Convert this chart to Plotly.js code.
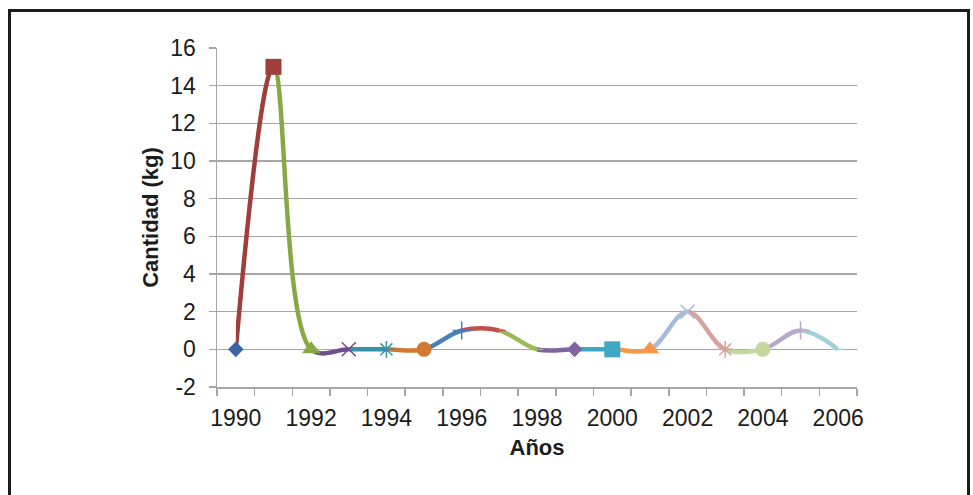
<!DOCTYPE html>
<html>
<head>
<meta charset="utf-8">
<script src="https://cdn.plot.ly/plotly-3.0.1.min.js"></script>
<style>
  html, body { margin: 0; padding: 0; background: #ffffff; overflow: hidden; }
  #frame { position: absolute; left: 8px; top: 9px; width: 962px; height: 530px;
           box-sizing: border-box; border: 3px solid #1c1c1c; pointer-events: none; z-index: 2; }
  #chart { position: absolute; left: 0; top: 0; width: 973px; height: 495px; }
</style>
</head>
<body>
<div id="chart"></div>
<div id="frame"></div>
<script>
// ---- data ----
const years = [1990, 1991, 1992, 1993, 1994, 1995, 1996, 1997, 1998, 1999, 2000, 2001, 2002, 2003, 2004, 2005, 2006];
const cantidad = [0, 15, 0, 0, 0, 0, 1, 1, 0, 0, 0, 0, 2, 0, 0, 1, 0];
const xTickVals = [1990, 1992, 1994, 1996, 1998, 2000, 2002, 2004, 2006];
const xTickLabels = ['1990', '1992', '1994', '1996', '1998', '2000', '2002', '2004', '2006'];
const yTickVals = [-2, 0, 2, 4, 6, 8, 10, 12, 14, 16];
const yTickLabels = ['-2', '0', '2', '4', '6', '8', '10', '12', '14', '16'];

// ---- styles (vary colours by point, Excel style) ----
const pointColors = [
  '#3a67a2', '#9f3e3b', '#86a845', '#6d4f8d', '#3592a8', '#d27a34',
  '#4a7ebb', '#c0504d', '#9bbb59', '#8064a2', '#3fa9c4', '#f79646',
  '#a7bbdc', '#d9a19e', '#c4d79f', '#b5a8cf', '#9fd0dc'
];
const symbolCycle = ['diamond', 'square', 'triangle-up', 'x-thin-open', 'asterisk-open',
                     'circle', 'cross-thin-open', 'line-ew-open', 'line-ew-open'];
const sizeCycle = [12, 16, 16, 14, 14, 15, 13, 9, 9];

const N = years.length;
const font = { family: 'Liberation Sans, Arial, sans-serif', size: 23, color: '#1c1c1c' };
const titleFont = { family: 'Liberation Sans, Arial, sans-serif', size: 22, color: '#1c1c1c' };
const grid = '#a6a6a6';

const layout = {
  width: 973, height: 495,
  margin: { l: 217, r: 116, t: 48, b: 108 },
  paper_bgcolor: '#ffffff', plot_bgcolor: 'rgba(0,0,0,0)',
  showlegend: false,
  font: font,
  xaxis: {
    domain: [0, 1], anchor: 'y',
    range: [years[0] - 0.5, years[N - 1] + 0.5],
    tickvals: xTickVals, ticktext: xTickLabels, ticks: '',
    ticklabelstandoff: 10,
    minor: { tick0: years[0] - 0.5, dtick: 1, ticks: 'outside', ticklen: 7, tickwidth: 1.5, tickcolor: grid, showgrid: false },
    showgrid: false, zeroline: false,
    showline: true, linecolor: grid, linewidth: 1.5,
    tickfont: font,
    title: { text: '<b>Años</b>', font: titleFont, standoff: 9 }
  },
  yaxis: {
    domain: [0, 1], anchor: 'x',
    range: [-2, 16], tickvals: yTickVals, ticktext: yTickLabels,
    ticks: 'outside', ticklen: 7, tickwidth: 1.5, tickcolor: grid,
    ticklabelstandoff: 8,
    showgrid: true, gridcolor: grid, gridwidth: 1.5,
    zeroline: false, showline: true, linecolor: grid, linewidth: 1.5,
    tickfont: font,
    title: { text: '<b>Cantidad (kg)</b>', font: titleFont, standoff: 5 }
  },
  yaxis2: {
    domain: [0, 1], anchor: 'x2', range: [-2, 16], visible: false, showgrid: false, zeroline: false, fixedrange: true
  }
};

const traces = [{ x: [], y: [], xaxis: 'x', yaxis: 'y', mode: 'markers', hoverinfo: 'skip', showlegend: false }];

// One clipped window per segment so every segment of the smooth line gets its own colour
for (let k = 0; k < N - 1; k++) {
  const ax = 'xaxis' + (k + 2);
  layout[ax] = {
    domain: [(k + 0.5) / N, (k + 1.5) / N],
    range: [years[k], years[k + 1]],
    anchor: 'y2', visible: false, showgrid: false, zeroline: false, fixedrange: true
  };
  traces.push({
    x: years, y: cantidad,
    xaxis: 'x' + (k + 2), yaxis: 'y2',
    mode: 'lines',
    line: { shape: 'spline', smoothing: 1, width: 4.5, color: pointColors[k + 1] },
    hoverinfo: 'skip', showlegend: false
  });
}

// markers on top
layout['xaxis' + (N + 1)] = {
  domain: [0, 1], range: [years[0] - 0.5, years[N - 1] + 0.5],
  anchor: 'y2', visible: false, showgrid: false, zeroline: false, fixedrange: true
};
const symbols = years.map((_, i) => symbolCycle[i % symbolCycle.length]);
const sizes = years.map((_, i) => sizeCycle[i % sizeCycle.length]);
traces.push({
  x: years, y: cantidad,
  xaxis: 'x' + (N + 1), yaxis: 'y2',
  mode: 'markers', cliponaxis: false,
  marker: {
    symbol: symbols, size: sizes, color: pointColors, opacity: 1,
    line: { color: pointColors, width: years.map((_, i) => symbols[i].indexOf('open') >= 0 ? 1.5 : 0) }
  },
  hoverinfo: 'skip', showlegend: false
});

Plotly.newPlot('chart', traces, layout, { displayModeBar: false, staticPlot: true });
</script>
</body>
</html>
